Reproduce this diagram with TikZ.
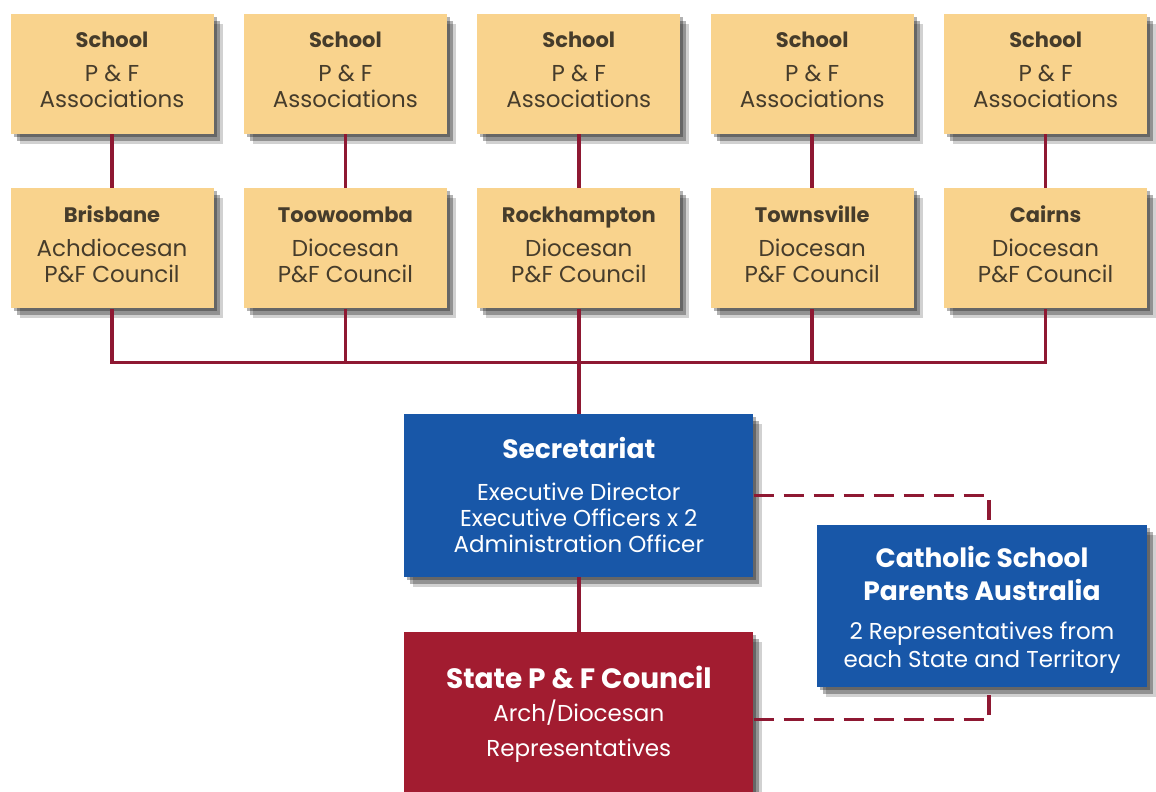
\documentclass[tikz,border=0pt]{standalone}
\usepackage{fontspec}
\setmainfont{Poppins}
\usepackage{xcolor}
\usetikzlibrary{positioning,shadows}

\definecolor{boxtan}{HTML}{F9D38D}
\definecolor{inktan}{HTML}{463C2B}
\definecolor{secblue}{HTML}{1857A8}
\definecolor{statered}{HTML}{A21C30}
\definecolor{linkred}{HTML}{8E1832}

\newcommand{\boxtitle}[1]{{\fontsize{21}{26}\selectfont\textbf{#1}}}
\newcommand{\bigtitle}[1]{{\fontsize{26.5}{30}\selectfont\textbf{#1}}}

\begin{document}
\begin{tikzpicture}[
    x=1pt, y=-1pt,
    node distance=30pt,
    shadowed/.style={
        drop shadow={shadow xshift=3pt, shadow yshift=-3pt, fill=black, opacity=0.30},
        drop shadow={shadow xshift=6pt, shadow yshift=-7pt, fill=black, opacity=0.30},
        drop shadow={shadow xshift=9pt, shadow yshift=-10pt, fill=black, opacity=0.18}},
    tanbox/.style={rectangle, fill=boxtan, text=inktan, align=center, minimum width=203pt, minimum height=120pt, inner sep=0pt, font=\fontsize{23}{26}\selectfont, shadowed},
    bigbox/.style={rectangle, text=white, align=center, minimum width=349pt, inner sep=0pt, font=\fontsize{23}{26}\selectfont, shadowed},
    link/.style={draw=linkred, line width=3.5pt},
    dashlink/.style={link, dash pattern=on 20pt off 10pt}
]
\useasboundingbox (0,0) rectangle (1156,792);
\clip (0,0) rectangle (1156,792);

% schools
\node[tanbox] (s1) at (112,74) {\boxtitle{School}\\[8pt]P \& F\\Associations\\[-18pt]\mbox{}};
\node[tanbox, right=of s1] (s2) {\boxtitle{School}\\[8pt]P \& F\\Associations\\[-18pt]\mbox{}};
\node[tanbox, right=of s2] (s3) {\boxtitle{School}\\[8pt]P \& F\\Associations\\[-18pt]\mbox{}};
\node[tanbox, right=of s3] (s4) {\boxtitle{School}\\[8pt]P \& F\\Associations\\[-18pt]\mbox{}};
\node[tanbox, right=of s4] (s5) {\boxtitle{School}\\[8pt]P \& F\\Associations\\[-18pt]\mbox{}};

% diocesan councils
\node[tanbox, below=54pt of s1] (c1) {\boxtitle{Brisbane}\\[8pt]Achdiocesan\\P\&F Council\\[-18pt]\mbox{}};
\node[tanbox, below=54pt of s2] (c2) {\boxtitle{Toowoomba}\\[8pt]Diocesan\\P\&F Council\\[-18pt]\mbox{}};
\node[tanbox, below=54pt of s3] (c3) {\boxtitle{Rockhampton}\\[8pt]Diocesan\\P\&F Council\\[-18pt]\mbox{}};
\node[tanbox, below=54pt of s4] (c4) {\boxtitle{Townsville}\\[8pt]Diocesan\\P\&F Council\\[-18pt]\mbox{}};
\node[tanbox, below=54pt of s5] (c5) {\boxtitle{Cairns}\\[8pt]Diocesan\\P\&F Council\\[-18pt]\mbox{}};

% state level
\node[bigbox, fill=secblue, minimum height=163pt, below=105pt of c3] (sec)
    {\bigtitle{Secretariat}\\[16pt]Executive Director\\Executive Officers x 2\\Administration Officer};
\node[bigbox, fill=statered, minimum height=175pt, below=55pt of sec] (state)
    {{\fontsize{28}{30}\selectfont\textbf{State P \& F Council}}\\[7pt]Arch/Diocesan\\[9pt]Representatives\\[-10pt]\mbox{}};
\node[bigbox, fill=secblue, minimum width=330pt, minimum height=162pt] (cat) at (982,606)
    {\mbox{}\\[3pt]\bigtitle{Catholic School}\\[7pt]\bigtitle{Parents Australia}\\[13pt]2 Representatives from\\[2pt]each State and Territory};

% connectors
\foreach \i in {1,...,5}
    \draw[link] (s\i) -- (c\i);
\path (c3.south) ++(0,54) coordinate (bus);
\draw[link] (c1.south) |- (bus) -| (c5.south);
\foreach \i in {2,3,4}
    \draw[link] (c\i.south) -- (c\i.south |- bus);
\draw[link] (bus) -- (sec);
\draw[link] (sec) -- (state);
\draw[dashlink] (sec.east) -| ([xshift=7pt]cat.north);
\draw[dashlink] (state.east) -| ([xshift=7pt]cat.south);

\end{tikzpicture}
\end{document}
